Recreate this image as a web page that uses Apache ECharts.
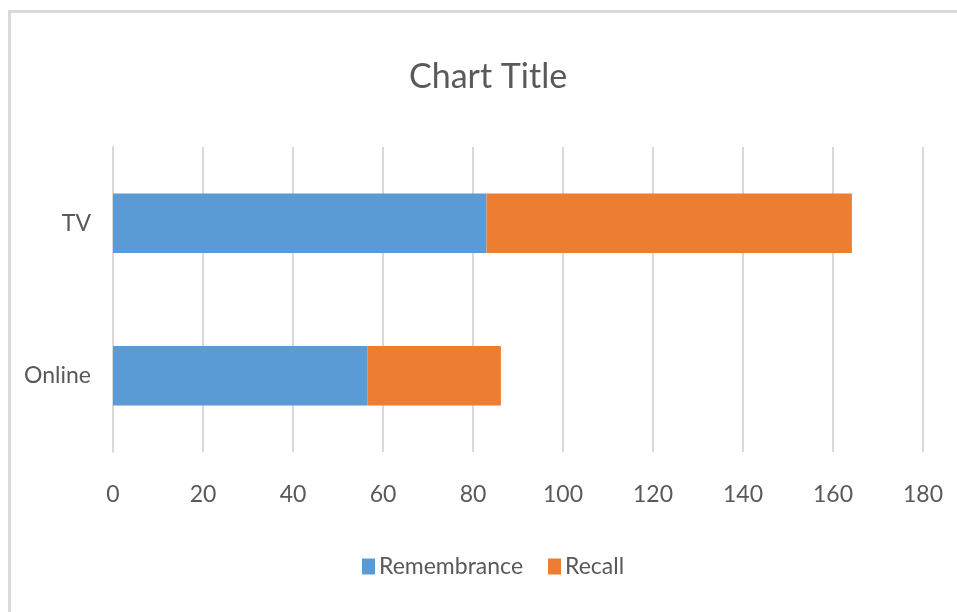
<!DOCTYPE html>
<html>
<head>
<meta charset="utf-8">
<script src="https://cdn.jsdelivr.net/npm/echarts@6/dist/echarts.min.js"></script>
<style>
  html, body { margin: 0; padding: 0; background: #ffffff; }
  #chart { width: 957px; height: 612px; }
</style>
</head>
<body>
<div id="chart"></div>
<script>
// Categories, bottom to top on the vertical axis
const categories = ['Online', 'TV'];
// Stacked series values
const remembrance = [56.6, 83.0];
const recall = [29.6, 81.2];
// Value axis ticks
const tickMin = 0;
const tickMax = 180;
const tickStep = 20;

const FONT = 'Lato, "Open Sans", sans-serif';
const TEXT = '#595959';
const GRID = '#d9d9d9';

const chart = echarts.init(document.getElementById('chart'), null, { renderer: 'canvas' });

chart.setOption({
  backgroundColor: '#ffffff',
  animation: false,
  title: {
    text: 'Chart Title',
    left: 404,
    top: 55,
    textStyle: { fontFamily: FONT, fontSize: 34, fontWeight: 'normal', color: TEXT }
  },
  graphic: [{
    type: 'rect',
    shape: { x: 9.5, y: 11.5, width: 1000, height: 700 },
    style: { fill: 'none', stroke: GRID, lineWidth: 3 },
    silent: true
  }],
  legend: {
    bottom: 29,
    left: 357,
    itemWidth: 13,
    itemHeight: 16,
    itemGap: 25,
    icon: 'rect',
    textStyle: { fontFamily: FONT, fontSize: 23, color: TEXT, padding: [0, 0, 0, -1] },
    data: ['Remembrance', 'Recall']
  },
  grid: { left: 113, right: 34, top: 147, bottom: 160, containLabel: false },
  xAxis: {
    type: 'value',
    min: tickMin,
    max: tickMax,
    interval: tickStep,
    axisLine: { show: false },
    axisTick: { show: false },
    splitLine: { show: true, lineStyle: { color: GRID, width: 2 } },
    axisLabel: { fontFamily: FONT, fontSize: 23, color: TEXT, margin: 31 }
  },
  yAxis: {
    type: 'category',
    data: categories,
    axisLine: { show: true, lineStyle: { color: GRID, width: 2 } },
    axisTick: { show: false },
    axisLabel: { fontFamily: FONT, fontSize: 23, color: TEXT, margin: 22 }
  },
  series: [
    {
      name: 'Remembrance',
      type: 'bar',
      stack: 'total',
      data: remembrance,
      barCategoryGap: '61%',
      itemStyle: { color: '#5b9bd5' }
    },
    {
      name: 'Recall',
      type: 'bar',
      stack: 'total',
      data: recall,
      barCategoryGap: '61%',
      itemStyle: { color: '#ed7d31' }
    }
  ]
});
</script>
</body>
</html>
